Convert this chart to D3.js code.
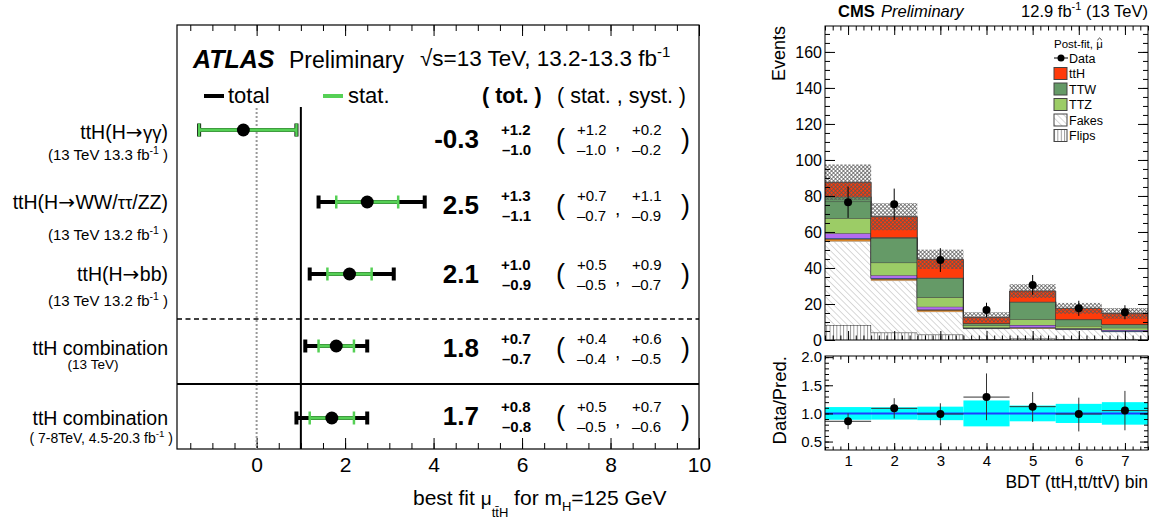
<!DOCTYPE html>
<html><head><meta charset="utf-8">
<script src="https://cdn.jsdelivr.net/npm/d3@7"></script>
<style>
body{margin:0;background:#fff;}
svg{display:block;}
</style></head><body>
<svg id="c" width="1163" height="524"></svg>
<script>
// ================= ATLAS data =================
const channels = ["ttH(H\u2192\u03b3\u03b3)", "ttH(H\u2192WW/\u03c4\u03c4/ZZ)", "ttH(H\u2192bb)", "ttH combination", "ttH combination"];
const channelNotes = ["(13 TeV 13.3 fb", "(13 TeV 13.2 fb", "(13 TeV 13.2 fb", "(13 TeV)", "( 7-8TeV, 4.5-20.3 fb"];
const noteSup = ["-1", "-1", "-1", "", "-1"];
const mu = [-0.3, 2.5, 2.1, 1.8, 1.7];
const totUp = [1.2, 1.3, 1.0, 0.7, 0.8];
const totDn = [1.0, 1.1, 0.9, 0.7, 0.8];
const statUp = [1.2, 0.7, 0.5, 0.4, 0.5];
const statDn = [1.0, 0.7, 0.5, 0.4, 0.5];
const systUp = [0.2, 1.1, 0.9, 0.6, 0.7];
const systDn = [0.2, 0.9, 0.7, 0.5, 0.6];
const muTicks = [0, 2, 4, 6, 8, 10];

// ================= CMS data =================
const bins = [1, 2, 3, 4, 5, 6, 7];
const binTicks = ["1", "2", "3", "4", "5", "6", "7"];
const flips = [8.3, 4.1, 3.0, 0.5, 0.8, 0.5, 0.3];
const fakes = [46.5, 28.9, 12.7, 5.8, 5.6, 5.3, 4.3];
const conv  = [1.3, 0.9, 0.9, 0.2, 0.3, 0.2, 0.1];
const rares = [0.6, 0.5, 0.4, 0.1, 0.4, 0.2, 0.5];
const ewk   = [2.6, 1.6, 1.5, 0.3, 1.2, 0.3, 0.4];
const ttz   = [8.3, 7.0, 5.2, 1.3, 3.2, 1.3, 1.2];
const ttw   = [9.3, 13.5, 10.6, 1.0, 9.5, 3.5, 1.8];
const ttww  = [2.7, 0.5, 0.3, 0.1, 0.3, 0.2, 0.1];
const tth   = [8.0, 11.5, 10.2, 3.3, 5.9, 6.1, 6.1];
const relUnc = [0.113, 0.11, 0.12, 0.23, 0.14, 0.17, 0.20];
const dataObs = [76.5, 75.4, 44.4, 16.7, 30.6, 17.6, 15.4];
const dataErr = [8.7, 8.7, 6.6, 4.0, 5.5, 4.2, 3.9];
const ratio = [0.86, 1.09, 0.99, 1.29, 1.12, 0.99, 1.05];
const ratioErrUp = [0.14, 0.18, 0.19, 0.42, 0.26, 0.29, 0.35];
const ratioErrDn = [0.14, 0.18, 0.20, 0.41, 0.27, 0.31, 0.35];
const eventTicks = [0, 20, 40, 60, 80, 100, 120, 140, 160];
const ratioTicks = [0.5, 1.0, 1.5, 2.0];
const legendNames = ["ttH", "TTW", "TTZ", "Fakes", "Flips"];

// ================= drawing =================
const F = '"Liberation Sans", Arial, Helvetica, sans-serif';
const svg = d3.select("#c").attr("font-family", F);
const defs = svg.append("defs");

function styleAxis(g, size) {
  g.attr("font-family", F).attr("font-size", size);
  g.select(".domain").remove();
  g.selectAll(".tick line").attr("stroke", "#000").attr("stroke-width", 1);
  g.selectAll(".tick text").attr("fill", "#000");
  return g;
}

// ---------- ATLAS panel ----------
const A = {l: 177, r: 699, t: 25, b: 449};
const x = d3.scaleLinear().domain([-1.8, 10]).range([A.l, A.r]);
const rowY = d3.scaleLinear().domain([0, 4]).range([130, 418]);
const g1 = svg.append("g");
const minorMu = d3.range(-1.5, 10.01, 0.5);

// axes
styleAxis(g1.append("g").attr("transform", `translate(0,${A.b})`)
  .call(d3.axisBottom(x).tickValues(muTicks).tickFormat(d3.format("d")).tickSize(-11).tickPadding(8)), 21);
styleAxis(g1.append("g").attr("transform", `translate(0,${A.b})`)
  .call(d3.axisBottom(x).tickValues(minorMu).tickFormat("").tickSize(-6)), 10);
styleAxis(g1.append("g").attr("transform", `translate(0,${A.t})`)
  .call(d3.axisTop(x).tickValues(muTicks).tickFormat("").tickSize(-11)), 10);
styleAxis(g1.append("g").attr("transform", `translate(0,${A.t})`)
  .call(d3.axisTop(x).tickValues(minorMu).tickFormat("").tickSize(-6)), 10);
g1.append("rect").attr("x", A.l).attr("y", A.t).attr("width", A.r - A.l).attr("height", A.b - A.t)
  .attr("fill", "none").attr("stroke", "#000").attr("stroke-width", 1.2);

// reference lines
g1.append("line").attr("x1", x(0)).attr("x2", x(0)).attr("y1", 108).attr("y2", A.b)
  .attr("stroke", "#999").attr("stroke-width", 2).attr("stroke-dasharray", "2,2");
g1.append("line").attr("x1", x(1)).attr("x2", x(1)).attr("y1", 107).attr("y2", A.b)
  .attr("stroke", "#000").attr("stroke-width", 2);
const sep1 = (rowY(2) + rowY(3)) / 2, sep2 = (rowY(3) + rowY(4)) / 2;
g1.append("line").attr("x1", A.l).attr("x2", A.r).attr("y1", sep1 + 9).attr("y2", sep1 + 9)
  .attr("stroke", "#000").attr("stroke-width", 1.6).attr("stroke-dasharray", "5,3.5");
g1.append("line").attr("x1", A.l).attr("x2", A.r).attr("y1", sep2 + 2).attr("y2", sep2 + 2)
  .attr("stroke", "#000").attr("stroke-width", 2);

// header
g1.append("text").attr("x", 193).attr("y", 68).attr("font-size", 25).attr("font-weight", "bold")
  .attr("font-style", "italic").text("ATLAS");
g1.append("text").attr("x", 289).attr("y", 68).attr("font-size", 23).text("Preliminary");
const hs = g1.append("text").attr("x", 420).attr("y", 66).attr("font-size", 22.5);
hs.append("tspan").text("\u221As=13 TeV, 13.2-13.3 fb");
hs.append("tspan").attr("font-size", 15).attr("dy", -9).text("-1");

// legend
g1.append("line").attr("x1", 204).attr("x2", 224).attr("y1", 96).attr("y2", 96).attr("stroke", "#000").attr("stroke-width", 4);
g1.append("text").attr("x", 228).attr("y", 103).attr("font-size", 22).text("total");
g1.append("line").attr("x1", 323).attr("x2", 343).attr("y1", 96).attr("y2", 96).attr("stroke", "#55d055").attr("stroke-width", 4);
g1.append("text").attr("x", 348).attr("y", 103).attr("font-size", 22).text("stat.");
g1.append("text").attr("x", 482).attr("y", 103).attr("font-size", 21.5).attr("font-weight", "bold").text("( tot. )");
g1.append("text").attr("x", 557).attr("y", 103).attr("font-size", 21.5).text("( stat. , syst. )");

// layout offsets for rows
const labelDy = [9, 7, 7, 9, 7];
const noteDy = [30, 38, 32, 23, 25];
const noteX = [168, 168, 168, 93, 173];
const noteAnchor = ["end", "end", "end", "middle", "end"];
const noteSize = [15, 15, 15, 13.5, 14];
const valDy = [18, 12, 9, 11, 7];
const fmt = v => d3.format(".1f")(v).replace("\u2212", "-");
const minus = v => "\u2013" + fmt(v);
const charKind = ch => /[\u0370-\u03ff]/.test(ch) ? "gk" : (ch === "\u2192" ? "ar" : "tx");

channels.forEach((c, i) => {
  const yy = rowY(i);
  const lt = g1.append("text").attr("x", 168).attr("y", yy + labelDy[i]).attr("text-anchor", "end")
    .attr("font-size", 19.5);
  // split label into runs: greek letters (ROOT symbol font) and arrow styled separately
  const runs = [];
  for (const ch of c) {
    const k = charKind(ch);
    if (runs.length && runs[runs.length - 1].k === k) runs[runs.length - 1].s += ch;
    else runs.push({k, s: ch});
  }
  runs.forEach(r => {
    const ts = lt.append("tspan").text(r.s);
    if (r.k === "gk") ts.attr("font-size", 18.5).attr("letter-spacing", 0);
    if (r.k === "ar") ts.attr("font-family", '"DejaVu Sans", sans-serif').attr("font-size", 20).attr("letter-spacing", 0.5);
  });
  const t = g1.append("text").attr("x", noteX[i]).attr("y", yy + noteDy[i])
    .attr("text-anchor", noteAnchor[i]).attr("font-size", noteSize[i]);
  t.append("tspan").text(channelNotes[i]);
  if (noteSup[i]) {
    t.append("tspan").attr("font-size", noteSize[i] * 0.7).attr("dy", -6).text(noteSup[i]);
    t.append("tspan").attr("dy", 6).text(" )");
  }
  // total error bar
  const xl = x(mu[i] - totDn[i]), xr = x(mu[i] + totUp[i]);
  g1.append("line").attr("x1", xl).attr("x2", xr).attr("y1", yy).attr("y2", yy).attr("stroke", "#000").attr("stroke-width", 4);
  [xl, xr].forEach(xx => g1.append("line").attr("x1", xx).attr("x2", xx).attr("y1", yy - 6.5).attr("y2", yy + 6.5)
    .attr("stroke", "#000").attr("stroke-width", 4));
  // stat error bar
  const sl = x(mu[i] - statDn[i]), sr = x(mu[i] + statUp[i]);
  g1.append("line").attr("x1", sl).attr("x2", sr).attr("y1", yy).attr("y2", yy).attr("stroke", "#55d055").attr("stroke-width", 3.5);
  [sl, sr].forEach(xx => g1.append("line").attr("x1", xx).attr("x2", xx).attr("y1", yy - 6.5).attr("y2", yy + 6.5)
    .attr("stroke", "#55d055").attr("stroke-width", 2.5));
  g1.append("circle").attr("cx", x(mu[i])).attr("cy", yy).attr("r", 6.5).attr("fill", "#000");

  // values
  const vb = yy + valDy[i];
  g1.append("text").attr("x", 479).attr("y", vb).attr("text-anchor", "end").attr("font-size", 26)
    .attr("font-weight", "bold").text(fmt(mu[i]));
  g1.append("text").attr("x", 501).attr("y", vb - 13).attr("font-size", 15).attr("font-weight", "bold").text("+" + fmt(totUp[i]));
  g1.append("text").attr("x", 502).attr("y", vb + 7).attr("font-size", 15).attr("font-weight", "bold").text(minus(totDn[i]));
  g1.append("text").attr("x", 556).attr("y", vb).attr("font-size", 27).text("(");
  g1.append("text").attr("x", 681).attr("y", vb).attr("font-size", 27).text(")");
  g1.append("text").attr("x", 577).attr("y", vb - 13).attr("font-size", 15).text("+" + fmt(statUp[i]));
  g1.append("text").attr("x", 577).attr("y", vb + 7).attr("font-size", 15).text(minus(statDn[i]));
  g1.append("text").attr("x", 615).attr("y", vb + 1).attr("font-size", 19).text(",");
  g1.append("text").attr("x", 632).attr("y", vb - 13).attr("font-size", 15).text("+" + fmt(systUp[i]));
  g1.append("text").attr("x", 632).attr("y", vb + 7).attr("font-size", 15).text(minus(systDn[i]));
});

// x axis title
const xt = g1.append("text").attr("x", 413).attr("y", 505).attr("font-size", 21);
xt.append("tspan").text("best fit ");
xt.append("tspan").attr("font-size", 19).text("\u03bc");
xt.append("tspan").attr("font-size", 13).attr("dy", 12).text("tt\u0304H");
xt.append("tspan").attr("dy", -12).text(" for m");
xt.append("tspan").attr("font-size", 13).attr("dy", 6).text("H");
xt.append("tspan").attr("dy", -6).text("=125 GeV");

// ---------- CMS panel ----------
const C = {l: 825, r: 1148, t: 26, b: 340, rt: 356, rb: 450};
const xb = d3.scaleLinear().domain([0.5, 7.5]).range([C.l, C.r]);
const yEv = d3.scaleLinear().domain([0, 174.4]).range([C.b, C.t]);
const yR = d3.scaleLinear().domain([0.35, 2.02]).range([C.rb, C.rt]);
const g2 = svg.append("g");

// patterns
const pf = defs.append("pattern").attr("id", "fakesPat").attr("patternUnits", "userSpaceOnUse")
  .attr("width", 4.5).attr("height", 4.5).attr("patternTransform", "rotate(-45)");
pf.append("rect").attr("width", 4.5).attr("height", 4.5).attr("fill", "#fff");
pf.append("line").attr("x1", 0).attr("x2", 0).attr("y1", 0).attr("y2", 4.5).attr("stroke", "#aaa").attr("stroke-width", 0.9);
const pv = defs.append("pattern").attr("id", "flipsPat").attr("patternUnits", "userSpaceOnUse")
  .attr("width", 3.4).attr("height", 4);
pv.append("rect").attr("width", 3.4).attr("height", 4).attr("fill", "#fff");
pv.append("line").attr("x1", 0.5).attr("x2", 0.5).attr("y1", 0).attr("y2", 4).attr("stroke", "#777").attr("stroke-width", 0.8);
const pb = defs.append("pattern").attr("id", "bandPat").attr("patternUnits", "userSpaceOnUse")
  .attr("width", 2.8).attr("height", 2.8).attr("patternTransform", "rotate(45)");
pb.append("line").attr("x1", 0).attr("x2", 2.8).attr("y1", 0.4).attr("y2", 0.4).attr("stroke", "#555").attr("stroke-width", 0.8);
pb.append("line").attr("x1", 0.4).attr("x2", 0.4).attr("y1", 0).attr("y2", 2.8).attr("stroke", "#555").attr("stroke-width", 0.8);

// stack
const keys = ["flips", "fakes", "conv", "rares", "ewk", "ttz", "ttw", "ttww", "tth"];
const series = {flips, fakes, conv, rares, ewk, ttz, ttw, ttww, tth};
const fills = {flips: "url(#flipsPat)", fakes: "url(#fakesPat)", conv: "#d9862b", rares: "#4a6fd0",
  ewk: "#b36bf0", ttz: "#9ccc66", ttw: "#659a67", ttww: "#659a67", tth: "#ff3b0a"};
const strokes = {flips: "#222", fakes: "#aaa", conv: "#333", rares: "#333", ewk: "#333",
  ttz: "#333", ttw: "#333", ttww: "#333", tth: "#333"};
const table = bins.map((b, i) => { const o = {bin: b}; keys.forEach(k => o[k] = series[k][i]); return o; });
const stacked = d3.stack().keys(keys)(table);
const edgePts = layer => {
  const pts = layer.map((d, i) => ({e: bins[i] - 0.5, lo: d[0], hi: d[1]}));
  const last = layer[layer.length - 1];
  pts.push({e: bins[bins.length - 1] + 0.5, lo: last[0], hi: last[1]});
  return pts;
};
const area = d3.area().x(d => xb(d.e)).y0(d => yEv(d.lo)).y1(d => yEv(d.hi)).curve(d3.curveStepAfter);
const topLine = d3.line().x(d => xb(d.e)).y(d => yEv(d.hi)).curve(d3.curveStepAfter);
stacked.forEach(layer => {
  const pts = edgePts(layer);
  g2.append("path").attr("d", area(pts)).attr("fill", fills[layer.key]);
  g2.append("path").attr("d", topLine(pts)).attr("fill", "none").attr("stroke", strokes[layer.key]).attr("stroke-width", 0.9);
});
const totals = stacked[stacked.length - 1].map(d => d[1]);
// uncertainty band
g2.selectAll(".band").data(bins).enter().append("rect")
  .attr("x", b => xb(b - 0.5)).attr("width", b => xb(b + 0.5) - xb(b - 0.5))
  .attr("y", (b, i) => yEv(totals[i] * (1 + relUnc[i])))
  .attr("height", (b, i) => yEv(totals[i] * (1 - relUnc[i])) - yEv(totals[i] * (1 + relUnc[i])))
  .attr("fill", "url(#bandPat)");
// data
bins.forEach((b, i) => {
  g2.append("line").attr("x1", xb(b)).attr("x2", xb(b)).attr("y1", yEv(dataObs[i] - dataErr[i])).attr("y2", yEv(dataObs[i] + dataErr[i]))
    .attr("stroke", "#000").attr("stroke-width", 1);
  g2.append("circle").attr("cx", xb(b)).attr("cy", yEv(dataObs[i])).attr("r", 4).attr("fill", "#000");
});

// main axes
const minorEv = d3.range(0, 171, 5);
const minorBin = d3.range(0, 43).map(i => 0.5 + i / 6);
styleAxis(g2.append("g").attr("transform", `translate(${C.l},0)`)
  .call(d3.axisLeft(yEv).tickValues(eventTicks).tickSize(-10).tickPadding(3)), 16);
styleAxis(g2.append("g").attr("transform", `translate(${C.l},0)`)
  .call(d3.axisLeft(yEv).tickValues(minorEv).tickFormat("").tickSize(-5)), 10);
styleAxis(g2.append("g").attr("transform", `translate(${C.r},0)`)
  .call(d3.axisRight(yEv).tickValues(eventTicks).tickFormat("").tickSize(-10)), 10);
styleAxis(g2.append("g").attr("transform", `translate(${C.r},0)`)
  .call(d3.axisRight(yEv).tickValues(minorEv).tickFormat("").tickSize(-5)), 10);
[[C.b, d3.axisBottom], [C.t, d3.axisTop]].forEach(([yy, ax]) => {
  styleAxis(g2.append("g").attr("transform", `translate(0,${yy})`).call(ax(xb).tickValues(bins).tickFormat("").tickSize(-9)), 10);
  styleAxis(g2.append("g").attr("transform", `translate(0,${yy})`).call(ax(xb).tickValues(minorBin).tickFormat("").tickSize(-4.5)), 10);
});
g2.append("rect").attr("x", C.l).attr("y", C.t).attr("width", C.r - C.l).attr("height", C.b - C.t)
  .attr("fill", "none").attr("stroke", "#000").attr("stroke-width", 1);

// legend
const pft = g2.append("text").attr("x", 1054).attr("y", 48).attr("font-size", 11.5).text("Post-fit, \u03bc");
const pbb = pft.node().getBBox();
const hx = pbb.x + pbb.width - 3.2;
g2.append("path").attr("d", `M${hx - 2.3},${pbb.y + 2.2} L${hx},${pbb.y} L${hx + 2.3},${pbb.y + 2.2}`)
  .attr("fill", "none").attr("stroke", "#000").attr("stroke-width", 0.8);
g2.append("line").attr("x1", 1054).attr("x2", 1068).attr("y1", 58).attr("y2", 58).attr("stroke", "#000");
g2.append("circle").attr("cx", 1061).attr("cy", 58).attr("r", 3.5).attr("fill", "#000");
g2.append("text").attr("x", 1069).attr("y", 62.5).attr("font-size", 12.5).text("Data");
const legFill = [fills.tth, fills.ttw, fills.ttz, fills.fakes, fills.flips];
legendNames.forEach((n, i) => {
  const cy = 73.5 + i * 15.5;
  g2.append("rect").attr("x", 1054).attr("y", cy - 6).attr("width", 13).attr("height", 12)
    .attr("fill", legFill[i]).attr("stroke", "#444").attr("stroke-width", 1);
  g2.append("text").attr("x", 1069).attr("y", cy + 4.5).attr("font-size", 12.5).text(n);
});

// header
g2.append("text").attr("x", 838).attr("y", 17).attr("font-size", 16.5).attr("font-weight", "bold").text("CMS");
g2.append("text").attr("x", 881).attr("y", 17).attr("font-size", 16.5).attr("font-style", "italic").text("Preliminary");
const lum = g2.append("text").attr("x", C.r).attr("y", 17).attr("text-anchor", "end").attr("font-size", 16.5);
lum.append("tspan").text("12.9 fb");
lum.append("tspan").attr("font-size", 11).attr("dy", -7).text("-1");
lum.append("tspan").attr("dy", 7).text(" (13 TeV)");
g2.append("text").attr("transform", `translate(785,${C.t}) rotate(-90)`).attr("text-anchor", "end")
  .attr("font-size", 18).text("Events");

// ratio panel
g2.selectAll(".rband").data(bins).enter().append("rect")
  .attr("x", b => xb(b - 0.5)).attr("width", b => xb(b + 0.5) - xb(b - 0.5))
  .attr("y", (b, i) => yR(1 + relUnc[i])).attr("height", (b, i) => yR(1 - relUnc[i]) - yR(1 + relUnc[i]))
  .attr("fill", "#00ffff");
g2.append("line").attr("x1", C.l).attr("x2", C.r).attr("y1", yR(1)).attr("y2", yR(1)).attr("stroke", "#1f3fff").attr("stroke-width", 2);
bins.forEach((b, i) => {
  g2.append("line").attr("x1", xb(b - 0.5)).attr("x2", xb(b + 0.5)).attr("y1", yR(ratio[i])).attr("y2", yR(ratio[i]))
    .attr("stroke", "#333").attr("stroke-width", 1);
  g2.append("line").attr("x1", xb(b)).attr("x2", xb(b)).attr("y1", yR(ratio[i] - ratioErrDn[i])).attr("y2", yR(ratio[i] + ratioErrUp[i]))
    .attr("stroke", "#333").attr("stroke-width", 1);
  g2.append("circle").attr("cx", xb(b)).attr("cy", yR(ratio[i])).attr("r", 4).attr("fill", "#000");
});
const minorR = d3.range(4, 21).map(i => i / 10);
styleAxis(g2.append("g").attr("transform", `translate(${C.l},0)`)
  .call(d3.axisLeft(yR).tickValues(ratioTicks).tickFormat(d3.format(".1f")).tickSize(-8).tickPadding(3)), 15);
styleAxis(g2.append("g").attr("transform", `translate(${C.l},0)`)
  .call(d3.axisLeft(yR).tickValues(minorR).tickFormat("").tickSize(-4)), 10);
styleAxis(g2.append("g").attr("transform", `translate(${C.r},0)`)
  .call(d3.axisRight(yR).tickValues(ratioTicks).tickFormat("").tickSize(-8)), 10);
styleAxis(g2.append("g").attr("transform", `translate(${C.r},0)`)
  .call(d3.axisRight(yR).tickValues(minorR).tickFormat("").tickSize(-4)), 10);
styleAxis(g2.append("g").attr("transform", `translate(0,${C.rb})`)
  .call(d3.axisBottom(xb).tickValues(bins).tickFormat((d, i) => binTicks[i]).tickSize(-7).tickPadding(5)), 15);
styleAxis(g2.append("g").attr("transform", `translate(0,${C.rb})`)
  .call(d3.axisBottom(xb).tickValues(minorBin).tickFormat("").tickSize(-3.5)), 10);
styleAxis(g2.append("g").attr("transform", `translate(0,${C.rt})`)
  .call(d3.axisTop(xb).tickValues(bins).tickFormat("").tickSize(-7)), 10);
styleAxis(g2.append("g").attr("transform", `translate(0,${C.rt})`)
  .call(d3.axisTop(xb).tickValues(minorBin).tickFormat("").tickSize(-3.5)), 10);
g2.append("rect").attr("x", C.l).attr("y", C.rt).attr("width", C.r - C.l).attr("height", C.rb - C.rt)
  .attr("fill", "none").attr("stroke", "#000").attr("stroke-width", 1);
g2.append("text").attr("transform", `translate(786,${C.rt}) rotate(-90)`).attr("text-anchor", "end")
  .attr("font-size", 18.5).text("Data/Pred.");
g2.append("text").attr("x", C.r).attr("y", 488).attr("text-anchor", "end").attr("font-size", 17.5).text("BDT (ttH,tt/ttV) bin");
</script>
</body></html>
